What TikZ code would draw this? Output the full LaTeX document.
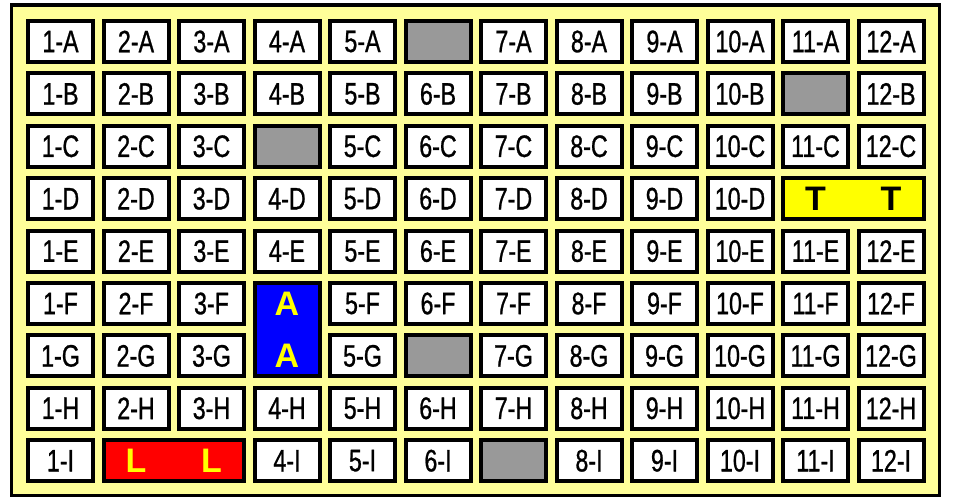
\documentclass[tikz,border=0pt]{standalone}
\usepackage{fontspec}
\setmainfont{Liberation Sans}
\newfontfamily\cellfont[FakeBold=1.0]{Liberation Sans}
\usetikzlibrary{calc}
\definecolor{panel}{HTML}{FFFF99}
\definecolor{cellgray}{HTML}{999999}
\definecolor{hiyel}{HTML}{FFFF00}
\definecolor{hiblue}{HTML}{0000FF}
\definecolor{hired}{HTML}{FF0000}
\newcommand\markskip[1]{\expandafter\def\csname skipcell-#1\endcsname{}}
\markskip{6-A}\markskip{11-B}\markskip{4-C}\markskip{6-G}\markskip{7-I}
\markskip{4-F}\markskip{4-G}\markskip{11-D}\markskip{12-D}\markskip{2-I}\markskip{3-I}
\begin{document}
\begin{tikzpicture}[x=1pt,y=-1pt,
  cellbox/.style={draw=black,line width=4pt,fill=white,rectangle,inner sep=0pt,outer sep=0pt,
    minimum width=65pt,minimum height=41pt,font=\cellfont\fontsize{31}{31}\selectfont},
  graybox/.style={cellbox,fill=cellgray},
  bigletter/.style={font=\fontsize{34}{34}\selectfont\bfseries,inner sep=0pt}]
\useasboundingbox (0,0) rectangle (955,499);
\fill[white] (0,0) rectangle (955,499);
\draw[line width=3.5pt,fill=panel] (11.7,5) rectangle (939.5,495.5);
% cell positions
\foreach \r/\L in {1/A,2/B,3/C,4/D,5/E,6/F,7/G,8/H,9/I}{
  \foreach \c in {1,...,12}{
    \pgfmathsetmacro{\cx}{26+(\c-1)*75.5+34.5}
    \pgfmathsetmacro{\cy}{19+(\r-1)*52.4+22.5}
    \coordinate (p-\c-\L) at (\cx,\cy);
  }
}
% regular cells
\foreach \L in {A,B,C,D,E,F,G,H,I}{
  \foreach \c in {1,...,12}{
    \ifcsname skipcell-\c-\L\endcsname\else
      \node[cellbox] (c-\c-\L) at (p-\c-\L) {\scalebox{0.75}[1]{\c-\L}};
    \fi
  }
}
% gray cells
\foreach \c/\L in {6/A,11/B,4/C,6/G,7/I}{
  \node[graybox] (g-\c-\L) at (p-\c-\L) {};
}
% merged blue A cell (column 4, rows F-G)
\node[cellbox,fill=hiblue,minimum height=93.4pt] (blueA) at ($(p-4-F)!0.5!(p-4-G)$) {};
\node[bigletter,text=hiyel] (a1) at (p-4-F) {A};
\node[bigletter,text=hiyel] (a2) at (p-4-G) {A};
% merged yellow T cell (columns 11-12, row D)
\node[cellbox,fill=hiyel,minimum width=140.5pt] (yellT) at ($(p-11-D)!0.5!(p-12-D)$) {};
\node[bigletter,text=black] (t1) at (p-11-D) {T};
\node[bigletter,text=black] (t2) at (p-12-D) {T};
% merged red L cell (columns 2-3, row I)
\node[cellbox,fill=hired,minimum width=140.5pt] (redL) at ($(p-2-I)!0.5!(p-3-I)$) {};
\node[bigletter,text=hiyel] (l1) at (p-2-I) {L};
\node[bigletter,text=hiyel] (l2) at (p-3-I) {L};
\end{tikzpicture}
\end{document}
